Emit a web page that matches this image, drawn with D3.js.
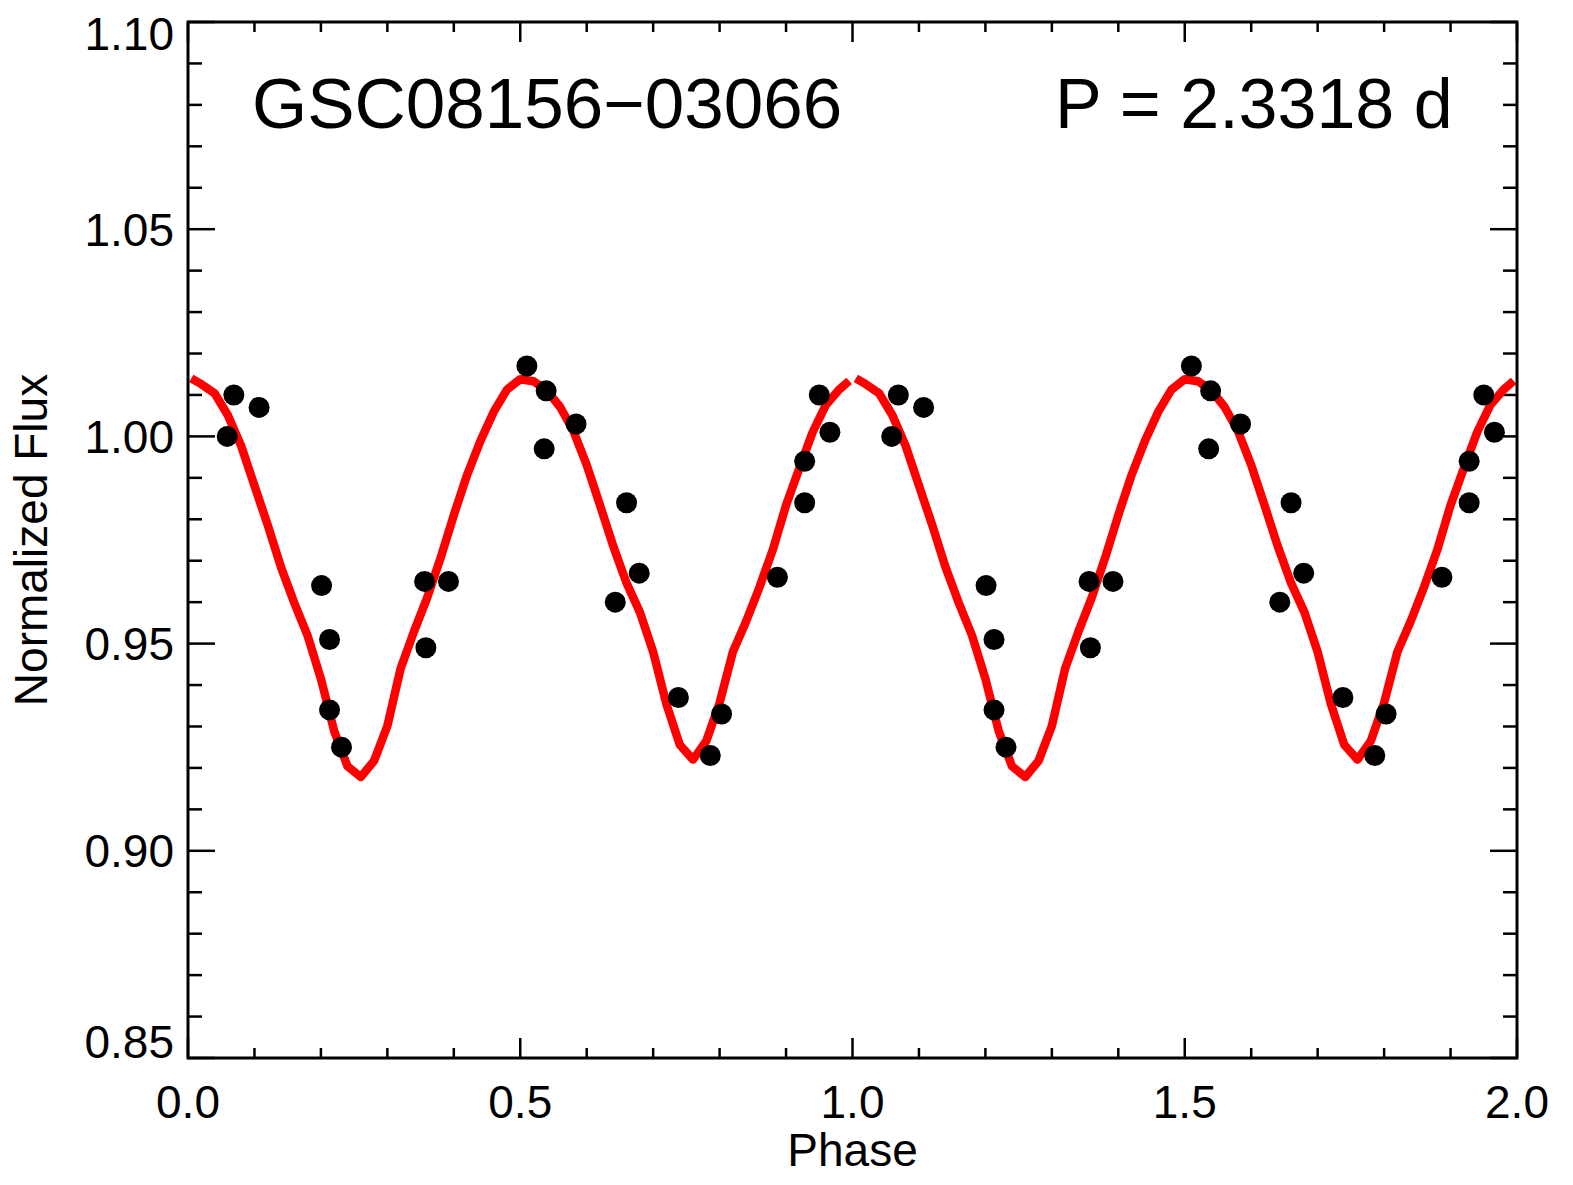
<!DOCTYPE html>
<html>
<head>
<meta charset="utf-8">
<script src="https://cdn.jsdelivr.net/npm/d3@7"></script>
<style>
  body { margin: 0; background: #fff; }
  text { font-family: "Liberation Sans", Arial, Helvetica, sans-serif; fill: #000; }
</style>
</head>
<body>
<div id="chart"></div>
<script>
// folded light curve, one cycle; drawn again for each entry of cycles
const obsPhase = [0.059, 0.069, 0.107, 0.201, 0.213, 0.213, 0.231, 0.356, 0.358, 0.392,
                  0.510, 0.536, 0.539, 0.584, 0.643, 0.660, 0.679, 0.738, 0.786, 0.803,
                  0.887, 0.928, 0.928, 0.950, 0.966];
const obsFlux  = [1.000, 1.010, 1.007, 0.964, 0.951, 0.934, 0.925, 0.965, 0.949, 0.965,
                  1.017, 0.997, 1.011, 1.003, 0.960, 0.984, 0.967, 0.937, 0.923, 0.933,
                  0.966, 0.984, 0.994, 1.010, 1.001];

// model curve (red)
const modelPhase = [0.005, 0.02, 0.04, 0.06, 0.08, 0.10, 0.12, 0.14, 0.16, 0.18,
                    0.20, 0.22, 0.24, 0.26, 0.28, 0.30, 0.32, 0.34, 0.36, 0.38,
                    0.40, 0.42, 0.44, 0.46, 0.48, 0.50, 0.52, 0.54, 0.56, 0.58,
                    0.60, 0.62, 0.64, 0.66, 0.68, 0.70, 0.72, 0.74, 0.76, 0.78,
                    0.80, 0.82, 0.84, 0.86, 0.88, 0.90, 0.92, 0.94, 0.96, 0.98, 0.995];
const modelFlux  = [1.0140, 1.0126, 1.0104, 1.0051, 0.9977, 0.9881, 0.9786, 0.9684, 0.9598, 0.9519,
                    0.9415, 0.9289, 0.9204, 0.9178, 0.9217, 0.9301, 0.9440, 0.9529, 0.9611, 0.9706,
                    0.9810, 0.9907, 0.9989, 1.0059, 1.0113, 1.0138, 1.0133, 1.0111, 1.0071, 1.0013,
                    0.9931, 0.9834, 0.9735, 0.9646, 0.9576, 0.9480, 0.9354, 0.9256, 0.9220, 0.9265,
                    0.9357, 0.9480, 0.9554, 0.9636, 0.9726, 0.9834, 0.9923, 1.0010, 1.0076, 1.0113, 1.0134];

const cycles = [0, 1];

const xMajor = [0.0, 0.5, 1.0, 1.5, 2.0];
const yMajor = [0.85, 0.90, 0.95, 1.00, 1.05, 1.10];

const starName = "GSC08156\u221203066";
const periodText = "P = 2.3318 d";

var W = 1573, H = 1185;
var margin = {top: 22, right: 56, bottom: 127, left: 188};

var svg = d3.select("#chart").append("svg")
    .attr("width", W)
    .attr("height", H);

var x = d3.scaleLinear().domain([0, 2]).range([margin.left, W - margin.right]);
var y = d3.scaleLinear().domain([0.85, 1.10]).range([H - margin.bottom, margin.top]);

var x0 = x.range()[0], x1 = x.range()[1];
var yb = y.range()[0], yt = y.range()[1];

// minor ticks
var xMinor = d3.range(0, 21).map(i => i / 10).filter(v => xMajor.indexOf(v) < 0);
var yMinor = d3.range(85, 111).map(i => i / 100).filter(v => yMajor.every(m => Math.abs(m - v) > 1e-6));

var ticks = svg.append("g").attr("stroke", "#000").attr("stroke-width", 2.5);

function xTick(v, len) {
    ticks.append("line").attr("x1", x(v)).attr("x2", x(v)).attr("y1", yb).attr("y2", yb - len);
    ticks.append("line").attr("x1", x(v)).attr("x2", x(v)).attr("y1", yt).attr("y2", yt + len);
}
function yTick(v, len) {
    ticks.append("line").attr("x1", x0).attr("x2", x0 + len).attr("y1", y(v)).attr("y2", y(v));
    ticks.append("line").attr("x1", x1).attr("x2", x1 - len).attr("y1", y(v)).attr("y2", y(v));
}
xMinor.forEach(v => xTick(v, 10));
xMajor.forEach(v => xTick(v, 20));
yMinor.forEach(v => yTick(v, 14));
yMajor.forEach(v => yTick(v, 27));

// model line, one path per cycle
var line = d3.line()
    .x(d => x(d[0]))
    .y(d => y(d[1]));

cycles.forEach(function (c) {
    var pts = modelPhase.map((p, i) => [p + c, modelFlux[i]]);
    svg.append("path")
        .datum(pts)
        .attr("d", line)
        .attr("fill", "none")
        .attr("stroke", "#ff0000")
        .attr("stroke-width", 8.5)
        .attr("stroke-linejoin", "round");
});

// observed points
cycles.forEach(function (c) {
    svg.append("g").selectAll("circle")
        .data(obsPhase.map((p, i) => [p + c, obsFlux[i]]))
        .enter().append("circle")
        .attr("cx", d => x(d[0]))
        .attr("cy", d => y(d[1]))
        .attr("r", 10.5)
        .attr("fill", "#000");
});

// frame
svg.append("rect")
    .attr("x", x0).attr("y", yt)
    .attr("width", x1 - x0).attr("height", yb - yt)
    .attr("fill", "none").attr("stroke", "#000").attr("stroke-width", 3);

// tick labels
svg.append("g").selectAll("text")
    .data(xMajor).enter().append("text")
    .attr("x", d => x(d))
    .attr("y", yb + 60)
    .attr("text-anchor", "middle")
    .style("font-size", "46px")
    .text(d => d.toFixed(1));

// end labels are kept inside the frame, as in the original plot
svg.append("g").selectAll("text")
    .data(yMajor).enter().append("text")
    .attr("x", x0 - 14)
    .attr("y", function (d) {
        if (d === 1.10) return yt + 28;
        if (d === 0.85) return yb;
        return y(d) + 16.5;
    })
    .attr("text-anchor", "end")
    .style("font-size", "46px")
    .text(d => d.toFixed(2));

// axis titles
svg.append("text")
    .attr("x", (x0 + x1) / 2)
    .attr("y", 1166)
    .attr("text-anchor", "middle")
    .style("font-size", "46px")
    .text("Phase");

svg.append("text")
    .attr("transform", "translate(47," + ((yt + yb) / 2) + ") rotate(-90)")
    .attr("text-anchor", "middle")
    .style("font-size", "46px")
    .text("Normalized Flux");

// annotations
svg.append("text")
    .attr("x", 252)
    .attr("y", 128)
    .style("font-size", "71px")
    .text(starName);

svg.append("text")
    .attr("x", 1055)
    .attr("y", 128)
    .style("font-size", "70px")
    .text(periodText);
</script>
</body>
</html>
